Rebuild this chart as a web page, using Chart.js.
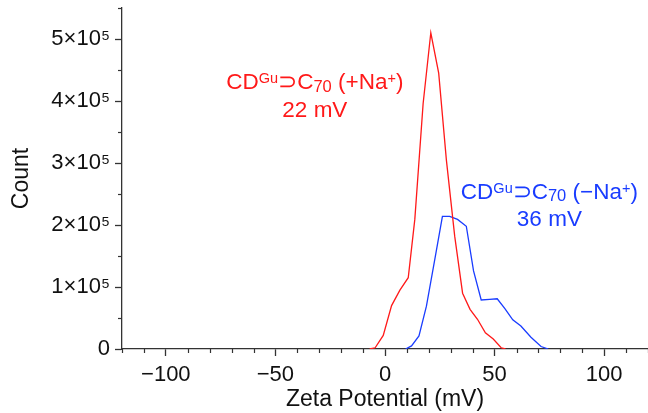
<!DOCTYPE html>
<html><head><meta charset="utf-8">
<script src="https://cdn.jsdelivr.net/npm/chart.js@4.4.1/dist/chart.umd.min.js"></script>
<style>html,body{margin:0;padding:0;background:#fff}#wrap{width:648px;height:413px;position:relative}</style>
</head><body><div id="wrap"><canvas id="c"></canvas></div>
<script>
// ---- data ----
const redZeta  = [-7, -4.5, -0.8, 3.0, 6.8, 10.6, 13.6, 17.4, 20.9, 24.5, 28.0, 31.8, 35.4, 38.8, 42.2, 45.8, 49.4, 53.0, 55];
const redCount = [0, 0.02, 0.22, 0.70, 0.95, 1.15, 2.09, 3.96, 5.10, 4.45, 3.05, 1.82, 0.90, 0.64, 0.48, 0.26, 0.16, 0.02, 0].map(v => v * 1e5);
const blueZeta  = [9.4, 12.1, 15.5, 18.9, 22.6, 26.2, 29.5, 33.1, 37.1, 40.4, 43.9, 47.7, 51.2, 54.7, 58.3, 62.0, 66.6, 71.2, 74.5];
const blueCount = [0, 0.05, 0.21, 0.69, 1.42, 2.14, 2.14, 2.09, 1.98, 1.26, 0.79, 0.80, 0.81, 0.65, 0.47, 0.37, 0.19, 0.04, 0].map(v => v * 1e5);
const xTickValues = [-100, -50, 0, 50, 100];
const yTickValues = [0, 1e5, 2e5, 3e5, 4e5, 5e5];
const xMinorStep = 10;
const yMinorStep = 0.5e5;

const redLabelLine1  = [['CD','n'],['Gu','sup'],['\u2283C','n'],['70','sub'],[' (+Na','n'],['+','sup'],[')','n']];
const redLabelLine2  = [['22 mV','n']];
const blueLabelLine1 = [['CD','n'],['Gu','sup'],['\u2283C','n'],['70','sub'],[' (\u2212Na','n'],['+','sup'],[')','n']];
const blueLabelLine2 = [['36 mV','n']];

const RED = 'rgb(255,25,25)';
const BLUE = 'rgb(25,60,255)';
const AXIS = '#333';
const TXT = '#111';
const FONT = "'Liberation Sans', Arial, Helvetica, sans-serif";

const annotations = [
  {parts: redLabelLine1,  x: -32, y: 4.19e5, color: RED},
  {parts: redLabelLine2,  x: -32, y: 3.75e5, color: RED},
  {parts: blueLabelLine1, x: 75,  y: 2.42e5, color: BLUE},
  {parts: blueLabelLine2, x: 75,  y: 1.98e5, color: BLUE},
];

const partStyle = {
  n:   {size: 22.5, dy: 0},
  sup: {size: 14.5, dy: -6},
  sub: {size: 16.5, dy: 2.5},
};

const minorTicks = {
  id: 'minorTicks',
  afterDraw(chart) {
    const {ctx, chartArea, scales} = chart;
    ctx.save();
    ctx.strokeStyle = AXIS; ctx.lineWidth = 1.2;
    const xs = scales.x, ys = scales.y;
    for (let v = xs.min; v <= xs.max + 1e-9; v += xMinorStep) {
      if (Math.abs(v % 50) < 1e-9) continue;
      const px = Math.round(xs.getPixelForValue(v)) + 0.5;
      ctx.beginPath(); ctx.moveTo(px, chartArea.bottom); ctx.lineTo(px, chartArea.bottom + 4); ctx.stroke();
    }
    for (let v = ys.min + yMinorStep; v <= ys.max + 1; v += 2 * yMinorStep) {
      const py = Math.round(ys.getPixelForValue(v)) + 0.5;
      ctx.beginPath(); ctx.moveTo(chartArea.left - 4, py); ctx.lineTo(chartArea.left, py); ctx.stroke();
    }
    ctx.restore();
  }
};

const labelPlugin = {
  id: 'labelPlugin',
  afterDraw(chart) {
    const {ctx, scales} = chart;
    ctx.save();
    ctx.textBaseline = 'alphabetic';
    ctx.textAlign = 'left';
    annotations.forEach(a => {
      let total = 0;
      const widths = a.parts.map(([t, k]) => {
        ctx.font = partStyle[k].size + 'px ' + FONT;
        const w = ctx.measureText(t).width; total += w; return w;
      });
      let px = scales.x.getPixelForValue(a.x) - total / 2;
      const py = scales.y.getPixelForValue(a.y);
      ctx.fillStyle = a.color;
      a.parts.forEach(([t, k], i) => {
        ctx.font = partStyle[k].size + 'px ' + FONT;
        ctx.fillText(t, px, py + partStyle[k].dy);
        px += widths[i];
      });
    });
    ctx.restore();
  }
};

Chart.defaults.font.family = FONT;

new Chart(document.getElementById('c'), {
  type: 'scatter',
  data: {
    datasets: [
      {label: 'CDGu⊃C70 (+Na+)', data: redZeta.map((x, i) => ({x, y: redCount[i]})),
       showLine: true, borderColor: RED, borderWidth: 1.3, pointRadius: 0, tension: 0, fill: false},
      {label: 'CDGu⊃C70 (−Na+)', data: blueZeta.map((x, i) => ({x, y: blueCount[i]})),
       showLine: true, borderColor: BLUE, borderWidth: 1.3, pointRadius: 0, tension: 0, fill: false},
    ]
  },
  options: {
    responsive: true, maintainAspectRatio: false, animation: false,
    layout: {padding: {top: 8, right: -2, left: 0, bottom: 0}},
    plugins: {legend: {display: false}, tooltip: {enabled: false}},
    scales: {
      x: {
        type: 'linear', min: -120, max: 120,
        afterBuildTicks: s => { s.ticks = xTickValues.map(v => ({value: v})); },
        afterFit: s => { s.height = 64; s.paddingLeft = 0; s.paddingRight = 0; },
        ticks: {callback: v => (v < 0 ? '\u2212' + Math.abs(v) : String(v)), font: {size: 22}, color: TXT, padding: 6, maxRotation: 0, autoSkip: false},
        grid: {drawOnChartArea: false, tickLength: 7, color: AXIS, tickWidth: 1.3},
        border: {color: AXIS, width: 1.3},
        title: {display: true, text: 'Zeta Potential (mV)', font: {size: 23}, color: TXT, padding: {top: 0, bottom: 0}}
      },
      y: {
        type: 'linear', min: 0, max: 5.5e5,
        afterBuildTicks: s => { s.ticks = yTickValues.map(v => ({value: v})); },
        afterFit: s => { s.width = 122; s.paddingTop = 0; s.paddingBottom = 0; },
        ticks: {callback: v => (v === 0 ? '0' : (v / 1e5) + '\u00d710\u2075'), font: {size: 22}, color: TXT, padding: 5, autoSkip: false},
        grid: {drawOnChartArea: false, tickLength: 7, color: AXIS, tickWidth: 1.3},
        border: {color: AXIS, width: 1.3},
        title: {display: true, text: 'Count', font: {size: 23}, color: TXT, padding: {top: 8, bottom: 0}}
      }
    }
  },
  plugins: [minorTicks, labelPlugin]
});
</script></body></html>
